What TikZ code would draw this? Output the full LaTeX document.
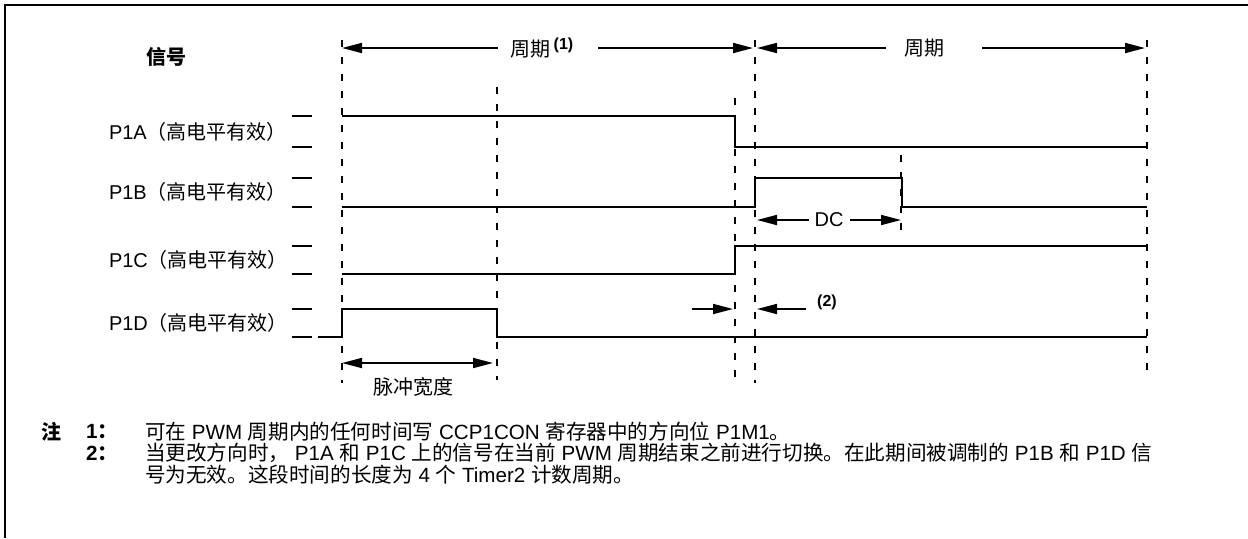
\documentclass[tikz,border=0pt]{standalone}
\usepackage{fontspec}
\setmainfont{Liberation Sans}
\newfontfamily\lat{Liberation Sans}
\newfontfamily\cjk{Noto Sans CJK SC}
\usetikzlibrary{arrows.meta}
\begin{document}
\begin{tikzpicture}[x=0.5pt,y=-0.5pt,
  font=\fontsize{10}{12}\selectfont,
  frame/.style={line width=1pt},
  wave/.style={line width=0.85pt},
  guide/.style={line width=0.8pt, dash pattern=on 3.3pt off 5.2pt},
  tick/.style={line width=0.85pt},
  dim/.style={line width=0.85pt, -{Triangle[length=10pt,width=5pt]}},
  dimboth/.style={line width=0.85pt, {Triangle[length=10pt,width=5pt]}-{Triangle[length=10pt,width=5pt]}},
  txt/.style={inner sep=0pt, outer sep=0pt},
  sig/.style={txt, anchor=west},
  note/.style={txt, anchor=west, font=\fontsize{10.3}{12}\selectfont}]
\useasboundingbox (0,0) rectangle (1248,538);
% frame
\draw[frame] (5,538) -- (5,5) -- (1248,5);
% header
\node[txt] (hdr) at (166,57) {\cjk\bfseries 信号};
% signal labels
\node[sig] (la) at (109,132) {P1A\cjk（高电平有效）};
\node[sig] (lb) at (109,192) {P1B\cjk（高电平有效）};
\node[sig] (lc) at (109,260) {P1C\cjk（高电平有效）};
\node[sig] (ld) at (109,323) {P1D\cjk（高电平有效）};
% level ticks
\foreach \y in {116,147,178,207,246,274,309,337}
  \draw[tick] (292,\y) -- (312,\y);
% guide lines
\draw[guide] (342,40) -- (342,383);
\draw[guide] (497,87) -- (497,380);
\draw[guide] (735,98) -- (735,383);
\draw[guide] (755,40) -- (755,383);
\draw[guide] (901,155) -- (901,232);
\draw[guide] (1147,40) -- (1147,378);
% waveforms
\draw[wave] (342,116) -- (735,116) -- (735,147) -- (1147,147);
\draw[wave] (342,207) -- (755,207) -- (755,178) -- (902,178) -- (902,207) -- (1147,207);
\draw[wave] (342,274) -- (735,274) -- (735,246) -- (1147,246);
\draw[wave] (318,337) -- (342,337) -- (342,309) -- (497,309) -- (497,337) -- (1147,337);
% period arrows
\coordinate (p1l) at (342,48);
\coordinate (p1r) at (753,48);
\coordinate (p2l) at (757,48);
\coordinate (p2r) at (1145,48);
\node[txt] (per1) at (542,48) {\cjk 周期\hspace{1.5pt}\raisebox{0.6ex}{\lat\fontsize{8}{9}\selectfont\bfseries (1)}};
\node[txt] (per2) at (924,48) {\cjk 周期};
\draw[dim] ([xshift=-6.5pt]per1.west) -- (p1l);
\draw[dim] ([xshift=12.5pt]per1.east) -- (p1r);
\draw[dim] ([xshift=-9pt]per2.west) -- (p2l);
\draw[dim] ([xshift=19pt]per2.east) -- (p2r);
% DC arrow
\coordinate (dcl) at (757,220);
\coordinate (dcr) at (901,220);
\node[txt] (dc) at (829,220) {DC};
\draw[dim] ([xshift=-3pt]dc.west) -- (dcl);
\draw[dim] ([xshift=3.5pt]dc.east) -- (dcr);
% (2) arrows
\coordinate (n2a) at (692,309);
\coordinate (n2b) at (733,309);
\coordinate (n2c) at (757,309);
\coordinate (n2d) at (806,309);
\draw[dim] (n2a) -- (n2b);
\draw[dim] (n2d) -- (n2c);
\node[txt] (n2) at (827,302) {\fontsize{8}{9}\selectfont\bfseries (2)};
% pulse width
\coordinate (pwl) at (342,363);
\coordinate (pwr) at (493,363);
\draw[dimboth] (pwl) -- (pwr);
\node[txt] (pw) at (413,387) {\cjk 脉冲宽度};
% notes
\node[txt] (zhu) at (51,432) {\cjk\bfseries 注};
\node[note] (k1) at (86,432) {\bfseries 1\cjk ：};
\node[note] (k2) at (86,453) {\bfseries 2\cjk ：};
\node[note] (t1) at (145,432) {{\cjk 可在} PWM {\cjk 周期内的任何时间写} CCP1CON {\cjk 寄存器中的方向位} P1M1{\cjk 。}};
\node[note] (t2) at (145,453) {{\cjk 当更改方向时，} P1A {\cjk 和} P1C {\cjk 上的信号在当前} PWM {\cjk 周期结束之前进行切换。在此期间被调制的} P1B {\cjk 和} P1D {\cjk 信}};
\node[note] (t3) at (145,475) {{\cjk 号为无效。这段时间的长度为} 4 {\cjk 个} Timer2 {\cjk 计数周期。}};
\end{tikzpicture}
\end{document}
